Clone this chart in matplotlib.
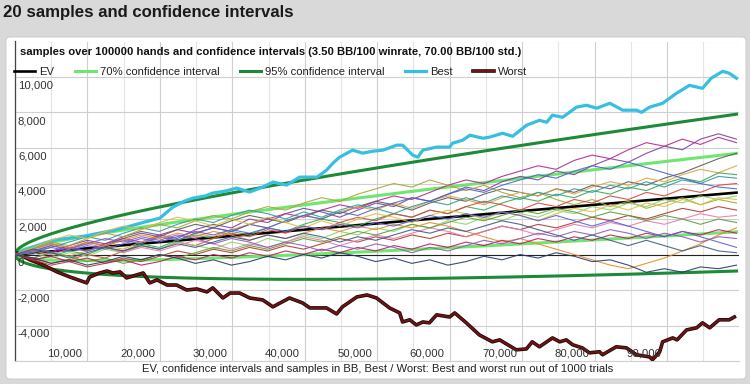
import numpy as np
import matplotlib
matplotlib.use('Agg')
import matplotlib.pyplot as plt
from matplotlib.patches import FancyBboxPatch
from matplotlib.transforms import ScaledTranslation, blended_transform_factory
import matplotlib.patheffects as pe

plt.rcParams['font.family'] = ['Liberation Sans', 'DejaVu Sans']

# ---------------- data ----------------
WINRATE = 3.50      # BB/100
STD = 70.00         # BB/100
MAX_HANDS = 99600
Z70 = 1.0
Z95 = 2.0

BEST_HANDS = [0, 1400, 2500, 4100, 5500, 7600, 9700, 11700, 13800, 15900, 17900, 20000, 21800, 23400,
              24600, 26200, 27300, 29000, 30600, 32400, 34200, 35600, 37500, 39300, 41700, 43000, 43900,
              44800, 46600, 48000, 49400, 50800, 52700, 53500, 54900, 55600, 56300, 58200, 60000, 60400,
              61800, 62800, 64600, 65500, 67300, 68700, 70600, 72400, 73400, 74200, 75600, 77500, 78900,
              80300, 82100, 83900, 85800, 86500, 87600, 89400, 91300, 93100, 94900, 96100, 97700, 98600, 99600]
BEST_BB = [0, 250, 420, 650, 820, 930, 1040, 1210, 1380, 1600, 1830, 2050, 2670, 3010, 3180, 3290, 3460,
           3570, 3740, 3520, 3800, 4080, 3910, 4360, 4360, 4750, 5150, 5480, 5880, 5710, 5820, 5880, 6160,
           6160, 5600, 5480, 5880, 6050, 6050, 6270, 6440, 6720, 6550, 6610, 6830, 6660, 7280, 7560, 7450,
           7850, 7730, 8300, 8410, 8240, 8520, 8130, 8130, 8010, 8300, 8520, 9080, 9530, 9360, 9930, 10320,
           10210, 9930]

WORST_HANDS = [0, 300, 2100, 3900, 5800, 7600, 9900, 10300, 11700, 12700, 13500, 14500, 15400, 16800,
               17700, 18600, 19600, 21000, 22300, 23700, 25100, 26500, 27300, 28700, 29700, 31000, 32400,
               34200, 35600, 36600, 37900, 39700, 40700, 43000, 44400, 45200, 47200, 48600, 49900, 50800,
               51700, 53100, 53500, 54500, 55400, 56300, 57200, 58200, 60000, 60700, 62300, 64100, 65900,
               66900, 69200, 70600, 71400, 72400, 74200, 75200, 76100, 77000, 78300, 79300, 80700, 81100,
               83000, 84400, 85800, 87600, 88000, 89000, 89400, 90800, 91400, 92700, 94100, 94900, 95900,
               97200, 98600, 99300]
WORST_BB = [0, 80, -310, -590, -980, -1270, -1600, -1270, -1040, -930, -1040, -980, -1320, -1150, -1040,
            -1600, -1430, -1720, -1720, -2000, -1940, -2110, -1880, -2450, -2170, -2170, -2450, -2560, -2950,
            -2730, -2450, -2730, -3010, -3010, -3350, -2950, -2390, -2280, -2450, -2730, -3010, -3290, -3800,
            -3680, -3970, -3800, -3850, -3400, -3520, -3290, -3850, -4530, -4920, -4810, -5370, -5320, -4920,
            -5200, -4700, -4920, -4810, -5090, -5260, -5540, -5480, -5650, -5200, -5260, -5650, -5770, -5930,
            -5480, -4920, -4700, -4810, -4250, -4130, -3850, -4130, -3680, -3680, -3520]

SAMPLE_HANDS = list(range(0, MAX_HANDS + 1, 2490))
S01 = [0, 300, 150, 500, 800, 600, 1000, 1300, 1100, 900, 1400, 1700, 1500, 2000, 1800, 2300, 2600, 2400, 2100, 2500, 2900, 2700, 3200, 3000, 3400, 3800, 3600, 4100, 4400, 4200, 4700, 4500, 5000, 5400, 5200, 5700, 6100, 5900, 6500, 6800, 6500]
S02 = [0, -200, 100, 400, 200, 600, 900, 700, 1100, 1400, 1200, 1500, 1300, 1700, 2000, 2300, 2100, 2500, 2800, 2600, 3000, 3300, 3100, 3500, 3900, 4200, 4000, 4400, 4700, 5000, 4800, 5300, 5600, 5400, 5900, 6300, 6100, 6500, 6200, 6600, 6300]
S03 = [0, 200, 500, 300, 700, 500, 900, 1200, 1000, 1400, 1700, 1500, 1900, 2200, 2000, 1800, 2200, 2500, 2300, 2700, 3000, 2800, 2500, 2900, 3200, 3000, 3400, 3700, 3500, 3300, 3700, 3500, 3900, 3700, 4100, 3900, 4300, 4600, 5000, 5400, 5700]
S04 = [0, 300, 100, -100, 200, 500, 300, 700, 1000, 800, 1200, 1000, 1400, 1700, 1500, 1900, 2200, 2000, 2400, 2700, 2500, 2900, 2600, 3000, 3300, 3100, 2800, 3200, 3500, 3300, 3700, 3400, 3800, 4100, 3900, 4300, 4100, 4500, 4800, 4600, 5000]
S05 = [0, 400, 700, 500, 900, 1200, 1000, 1400, 1700, 1500, 1900, 2200, 2000, 2400, 2700, 2500, 2900, 3200, 3000, 3400, 3700, 4000, 3800, 4200, 3900, 3600, 3900, 3500, 3200, 3500, 3100, 2800, 3100, 2700, 3000, 2600, 2900, 3200, 2800, 3100, 2900]
S06 = [0, -300, -100, 200, 0, 400, 200, 600, 400, 800, 1100, 900, 1300, 1100, 1500, 1300, 1700, 2000, 1800, 1600, 2000, 2300, 2100, 2500, 2300, 2700, 2500, 2900, 3200, 3000, 3400, 3200, 3600, 3400, 3800, 3600, 4000, 4300, 4100, 4600, 4500]
S07 = [0, 200, 400, 700, 1000, 800, 1200, 1500, 1300, 1700, 2000, 1800, 2200, 2500, 2300, 2000, 2400, 2100, 2500, 2800, 2600, 2300, 2700, 3000, 2800, 3200, 2900, 3300, 3100, 3500, 3300, 3700, 3500, 3900, 3700, 4100, 3800, 4200, 4000, 4400, 4300]
S08 = [0, -200, -500, -300, 0, -200, 200, 500, 300, 700, 500, 900, 1200, 1000, 1400, 1200, 1600, 1400, 1800, 2100, 1900, 2300, 2100, 2500, 2300, 2700, 3000, 2800, 2500, 2900, 2700, 3100, 2900, 3300, 3100, 3500, 3300, 3700, 3500, 3900, 4000]
S09 = [0, 300, 600, 400, 200, 500, 800, 600, 1000, 800, 1200, 1500, 1300, 1700, 1500, 1900, 2200, 2000, 2400, 2200, 2600, 2900, 3200, 3000, 3400, 3700, 3500, 3900, 4200, 4500, 4300, 4700, 5000, 4800, 5200, 4900, 4600, 4300, 4000, 3800, 3700]
S10 = [0, 100, -200, 100, -100, 300, 100, 500, 300, 700, 500, 300, 700, 500, 900, 700, 1100, 900, 1300, 1100, 1500, 1300, 1700, 1500, 1900, 1700, 2100, 1900, 2300, 2100, 2500, 2300, 2700, 2500, 2900, 2700, 3100, 2900, 3300, 3100, 3300]
S11 = [0, 400, 800, 1100, 900, 1300, 1600, 1400, 1800, 2100, 1900, 1600, 2000, 1700, 2100, 1800, 1500, 1900, 1600, 2000, 2300, 2100, 1800, 2200, 2500, 2300, 2000, 2400, 2200, 1900, 2300, 2600, 2400, 2800, 2500, 2900, 2700, 3100, 2800, 3200, 3100]
S12 = [0, -300, -600, -400, -700, -500, -200, -400, -100, 200, 0, 300, 100, 400, 200, 500, 300, 600, 900, 700, 1000, 800, 1100, 900, 1200, 1000, 1300, 1600, 1400, 1700, 1500, 1800, 2100, 1900, 2200, 2000, 2300, 2600, 2400, 2700, 2500]
S13 = [0, 200, 0, 300, 600, 400, 100, 400, 200, 500, 800, 600, 300, 600, 400, 700, 1000, 800, 500, 800, 1100, 900, 1200, 1500, 1300, 1000, 1300, 1600, 1400, 1100, 1400, 1700, 1500, 1800, 1600, 1900, 1700, 2000, 2300, 2100, 2200]
S14 = [0, -200, 100, -100, -400, -200, -500, -300, 0, -200, 100, 400, 200, 500, 300, 600, 900, 700, 1000, 1300, 1100, 1400, 1700, 1500, 1800, 2100, 1900, 2200, 2500, 2300, 2600, 2400, 2100, 2400, 2200, 1900, 2200, 2000, 1700, 2000, 1800]
S15 = [0, 300, 600, 400, 700, 500, 800, 1100, 900, 1200, 1000, 1300, 1100, 800, 1100, 900, 1200, 1500, 1300, 1600, 1400, 1700, 1500, 1800, 1600, 1300, 1000, 700, 900, 600, 300, 0, -300, -600, -800, -500, -200, 200, 600, 1100, 1500]
S16 = [0, -300, -100, -400, -200, -500, -300, -600, -400, -100, -300, 0, -200, 100, -100, 200, 0, 300, 100, 400, 200, 500, 300, 600, 400, 700, 500, 800, 600, 900, 700, 1000, 800, 1100, 900, 1200, 1000, 1300, 1100, 1400, 1200]
S17 = [0, 200, 500, 300, 600, 900, 700, 1000, 800, 1100, 900, 600, 900, 700, 400, 700, 500, 200, 500, 300, 600, 400, 100, 400, 200, 500, 800, 600, 900, 1200, 1000, 1300, 1100, 1400, 1200, 900, 1200, 1000, 700, 1000, 900]
S18 = [0, 100, 400, 200, 500, 300, 600, 900, 700, 1000, 1300, 1100, 1400, 1200, 1500, 1300, 1600, 1400, 1700, 1500, 1800, 1600, 1900, 2200, 2000, 2300, 2100, 2400, 2200, 1900, 2200, 1900, 1600, 1900, 1600, 1300, 1000, 1300, 1000, 700, 400]
S19 = [0, -200, -500, -300, -600, -400, -100, -300, 0, -200, -500, -300, -600, -400, -100, -300, 0, -200, 100, -100, -400, -200, -500, -300, -600, -400, -100, -300, 0, -200, 100, -100, -400, -300, -600, -1000, -800, -1000, -700, -800, -600]
S20 = [0, 300, 100, -200, 100, 400, 200, 500, 300, 600, 400, 700, 1000, 800, 1100, 900, 1200, 1000, 700, 1000, 800, 1100, 1400, 1200, 1500, 1300, 1600, 1900, 1700, 1400, 1100, 800, 1100, 800, 500, 800, 500, 200, 500, 200, 100]
SAMPLES = [S01, S02, S03, S04, S05, S06, S07, S08, S09, S10,
           S11, S12, S13, S14, S15, S16, S17, S18, S19, S20]
SAMPLE_COLORS = ['#7b3fa0', '#b5258f', '#5a5a5a', '#e3a03a', '#a9a434', '#3aa655', '#2b9c9c', '#d9483b',
                 '#4a64c4', '#8bd36a', '#d8c23c', '#b03a2e', '#e27bb1', '#5e9e34', '#e8892a', '#c2185b',
                 '#8e5bb5', '#5d5fd6', '#27386b', '#3d5a80']

Y_TICKS = [-4000, -2000, 0, 2000, 4000, 6000, 8000, 10000]
X_TICKS = [10000, 20000, 30000, 40000, 50000, 60000, 70000, 80000, 90000]

HEADER = '20 samples and confidence intervals'
SUBTITLE = 'samples over 100000 hands and confidence intervals (3.50 BB/100 winrate, 70.00 BB/100 std.)'
XLABEL = 'EV, confidence intervals and samples in BB, Best / Worst: Best and worst run out of 1000 trials'

# ---------------- figure ----------------
W, H = 750, 384
fig = plt.figure(figsize=(W / 100, H / 100), dpi=100)
fig.patch.set_facecolor('#d9d9d9')

panel = FancyBboxPatch((0.06, 0.05), 7.40, 3.42, boxstyle='round,pad=0,rounding_size=0.04',
                       transform=fig.dpi_scale_trans, facecolor='white', edgecolor='#c8c8c8',
                       linewidth=0.6, zorder=-5)
fig.patches.append(panel)

fig.text(3 / W, 1 - 12 / H, HEADER, fontsize=12.1, fontweight='bold', color='#1a1a1a',
         ha='left', va='center')

ax = fig.add_axes([15 / W, 23 / H, 724.4 / W, 319.5 / H])
ax.patch.set_alpha(0)
ax.set_xlim(0, 100000)
ax.set_ylim(-6000, 12000)

ax.set_xticks(list(range(0, 100001, 10000)))
ax.set_xticks(list(range(5000, 100000, 10000)), minor=True)
ax.set_yticks(list(range(-6000, 12001, 2000)))
ax.grid(True, which='major', color='#cfcfcf', linewidth=0.8)
ax.grid(True, which='minor', axis='x', color='#e4e4e4', linewidth=0.8)
ax.tick_params(which='both', length=0, labelleft=False, labelbottom=False)
ax.set_axisbelow(True)
for s in ['top', 'right']:
    ax.spines[s].set_visible(False)
ax.spines['left'].set_color('#444444')
ax.spines['left'].set_linewidth(0.9)
ax.spines['bottom'].set_color('#cfcfcf')
ax.spines['bottom'].set_linewidth(0.8)

ax.axhline(0, color='#222222', linewidth=0.8, zorder=1.5)

# EV and confidence intervals from winrate / std
h = np.linspace(0, MAX_HANDS, 400)
ev = WINRATE / 100 * h
sd = STD * np.sqrt(h / 100)

ax.plot(h, ev, color='black', linewidth=1.9, zorder=2, label='EV')
ax.plot(h, ev + Z70 * sd, color='#6fe66f', linewidth=2.2, zorder=2, label='70% confidence interval')
ax.plot(h, ev - Z70 * sd, color='#6fe66f', linewidth=2.2, zorder=2)
ax.plot(h, ev + Z95 * sd, color='#1c8a36', linewidth=2.2, zorder=2, label='95% confidence interval')
ax.plot(h, ev - Z95 * sd, color='#1c8a36', linewidth=2.2, zorder=2)
ax.plot(BEST_HANDS, BEST_BB, color='#36bfe0', linewidth=2.3, zorder=2, label='Best')
ax.plot(WORST_HANDS, WORST_BB, color='#701313', linewidth=1.5, zorder=2, label='Worst',
        path_effects=[pe.Stroke(linewidth=2.6, foreground='#1a0606'), pe.Normal()])

for vals, c in zip(SAMPLES, SAMPLE_COLORS):
    ax.plot(SAMPLE_HANDS, vals, color=c, linewidth=0.8, alpha=0.9, zorder=3)

# tick labels inside the plot area
ytr = blended_transform_factory(ax.transAxes, ax.transData) + ScaledTranslation(0.03, -0.035, fig.dpi_scale_trans)
for v in Y_TICKS:
    ax.text(0, v, f'{v:,}', transform=ytr, ha='left', va='top', fontsize=8.2, color='#333333')
xtr = blended_transform_factory(ax.transData, ax.transAxes) + ScaledTranslation(-0.05, 0.08, fig.dpi_scale_trans)
for v in X_TICKS:
    ax.text(v, 0, f'{v:,}', transform=xtr, ha='right', va='center', fontsize=8.2, color='#333333')

fig.text(20 / W, 1 - 52 / H, SUBTITLE, fontsize=8.1, fontweight='bold', color='#111111',
         ha='left', va='center')

leg = ax.legend(loc='center left', bbox_to_anchor=(14 / W, 1 - 72 / H), bbox_transform=fig.transFigure,
                ncol=5, frameon=False, fontsize=8.1, handlelength=1.9, handletextpad=0.35,
                columnspacing=1.8, borderpad=0, borderaxespad=0)
for t in leg.get_texts():
    t.set_color('#222222')

ax.set_xlabel(XLABEL, fontsize=8.15, color='#222222', labelpad=2)

fig.savefig('out.png', dpi=100, facecolor=fig.get_facecolor())
